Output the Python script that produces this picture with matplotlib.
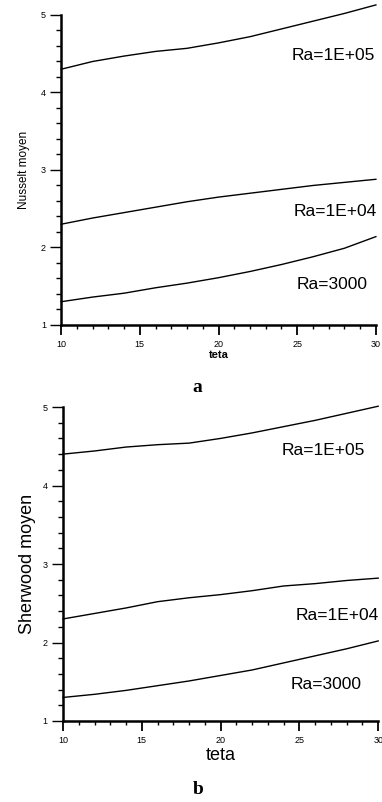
import matplotlib
matplotlib.use("Agg")
import matplotlib.pyplot as plt
from matplotlib.ticker import MultipleLocator

plt.rcParams['font.family'] = ['Liberation Sans', 'DejaVu Sans']

teta = [10, 12, 14, 16, 18, 20, 22, 24, 26, 28, 30]

# Panel a : Nusselt moyen
nu_1e5 = [4.30, 4.40, 4.47, 4.53, 4.57, 4.64, 4.72, 4.82, 4.92, 5.02, 5.13]
nu_1e4 = [2.30, 2.38, 2.45, 2.52, 2.59, 2.65, 2.70, 2.75, 2.80, 2.84, 2.88]
nu_3000 = [1.30, 1.36, 1.41, 1.48, 1.54, 1.61, 1.69, 1.78, 1.88, 1.99, 2.14]

# Panel b : Sherwood moyen
sh_1e5 = [4.40, 4.44, 4.49, 4.52, 4.54, 4.60, 4.67, 4.75, 4.83, 4.92, 5.01]
sh_1e4 = [2.30, 2.37, 2.44, 2.52, 2.57, 2.61, 2.66, 2.72, 2.75, 2.79, 2.82]
sh_3000 = [1.30, 1.34, 1.39, 1.45, 1.51, 1.58, 1.65, 1.74, 1.83, 1.92, 2.02]

labels = ["Ra=1E+05", "Ra=1E+04", "Ra=3000"]
label_pos_a = [(27.3, 4.48), (27.4, 2.46), (27.2, 1.52)]
label_pos_b = [(26.5, 4.45), (27.4, 2.35), (26.7, 1.46)]

fig = plt.figure(figsize=(3.82, 8.02), dpi=100)
ax1 = fig.add_axes([0.160, 0.5948, 0.824, 0.3865])
ax2 = fig.add_axes([0.165, 0.1010, 0.825, 0.3915])


def style(ax, ticksize):
    ax.set_xlim(10, 30)
    ax.set_ylim(1, 5)
    for s in ['top', 'right']:
        ax.spines[s].set_visible(False)
    for s in ['left', 'bottom']:
        ax.spines[s].set_linewidth(1.8)
    ax.xaxis.set_major_locator(MultipleLocator(5))
    ax.xaxis.set_minor_locator(MultipleLocator(1))
    ax.yaxis.set_major_locator(MultipleLocator(1))
    ax.yaxis.set_minor_locator(MultipleLocator(0.2))
    ax.tick_params(axis='x', which='major', direction='out', length=7, width=1.3,
                   labelsize=ticksize, pad=4)
    ax.tick_params(axis='x', which='minor', direction='out', length=3, width=1.0)
    ax.tick_params(axis='y', which='major', direction='out', length=8, width=1.0,
                   labelsize=ticksize, pad=3)
    ax.tick_params(axis='y', which='minor', direction='out', length=3.5, width=1.0)


for ax, series, pos in [(ax1, [nu_1e5, nu_1e4, nu_3000], label_pos_a),
                        (ax2, [sh_1e5, sh_1e4, sh_3000], label_pos_b)]:
    for ys in series:
        ax.plot(teta, ys, color='black', lw=1.0, clip_on=False)
    for lab, (x, y) in zip(labels, pos):
        ax.text(x, y, lab, fontsize=12.5, ha='center', va='center')

style(ax1, 6.5)
style(ax2, 6.5)

ax1.set_xlabel("teta", fontsize=8, fontweight='bold', labelpad=0.5)
ax1.set_ylabel("Nusselt moyen", fontsize=8.5, labelpad=8)
ax2.set_xlabel("teta", fontsize=13, labelpad=1)
ax2.set_ylabel("Sherwood moyen", fontsize=13, labelpad=5)

fig.text(0.516, 1 - 387 / 802, "a", fontsize=14, fontweight='bold',
         family='Liberation Serif', ha='center', va='center')
fig.text(0.518, 1 - 790 / 802, "b", fontsize=14, fontweight='bold',
         family='Liberation Serif', ha='center', va='center')

fig.savefig("out.png", dpi=100)
